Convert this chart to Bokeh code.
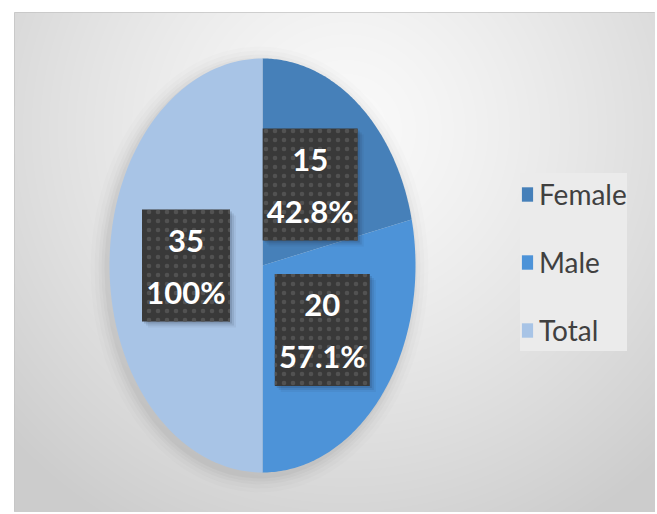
import numpy as np
from bokeh.plotting import figure
from bokeh.models import Range1d, ColumnDataSource
from bokeh.core.properties import value
from bokeh.embed import file_html
from bokeh.resources import INLINE

# ---- data ----
categories = ["Female", "Male", "Total"]
counts = [15, 20, 35]
pct_labels = ["42.8%", "57.1%", "100%"]
colors = ["#4680b9", "#4d93d8", "#a8c4e6"]

# ---- layout ----
W, H = 655, 512
ML, MT = 14, 12
FW, FH = W - ML, H - MT

p = figure(width=W, height=H, output_backend="svg", toolbar_location=None,
           x_range=Range1d(0, FW), y_range=Range1d(0, FH),
           x_axis_location=None, y_axis_location=None,
           min_border_left=ML, min_border_top=MT, min_border_right=0, min_border_bottom=0)
p.grid.visible = False
p.outline_line_color = "#c4c4c4"
p.border_fill_color = "white"
p.background_fill_color = "#e0e0e0"

# background gradient (style only)
yy, xx = np.mgrid[0:FH, 0:FW]
px = xx + float(ML)
py = float(MT) + (FH - yy)
d = np.sqrt(((px - 345) / 430.0) ** 2 + ((py - 130) / 430.0) ** 2)
v = np.clip(250 - 42 * d ** 1.3, 204, 250).astype(np.uint8)
img = np.empty((FH, FW), dtype=np.uint32)
view = img.view(dtype=np.uint8).reshape((FH, FW, 4))
view[..., 0] = v
view[..., 1] = v
view[..., 2] = v
view[..., 3] = 255
p.image_rgba(image=[img], x=0, y=0, dw=FW, dh=FH)

# ---- pie (elliptical) ----
cx, cy = 262.0 - ML, float(FH + MT) - 265.0
rx, ry = 153.0, 207.0

# soft shadow halo
for k, a in [(16, 0.012), (12, 0.015), (8, 0.02), (5, 0.025), (2, 0.03)]:
    p.ellipse(x=cx - 3, y=cy - 4, width=2 * (rx + k), height=2 * (ry + k),
              fill_color="black", fill_alpha=a, line_color=None)

total = float(sum(counts))
fr = np.concatenate([[0.0], np.cumsum(counts) / total])
xs, ys, lx, ly = [], [], [], []
for i in range(len(counts)):
    a0 = np.pi / 2 - 2 * np.pi * fr[i]
    a1 = np.pi / 2 - 2 * np.pi * fr[i + 1]
    t = np.linspace(a0, a1, 120)
    xs.append(np.concatenate([[cx], cx + rx * np.cos(t)]))
    ys.append(np.concatenate([[cy], cy + ry * np.sin(t)]))
    am = (a0 + a1) / 2
    lx.append(cx + 0.5 * rx * np.cos(am))
    ly.append(cy + 0.5 * ry * np.sin(am))

src = ColumnDataSource(dict(xs=xs, ys=ys, color=colors, category=categories))
p.patches("xs", "ys", fill_color="color", line_color=None, source=src,
          legend_field="category")

# ---- data labels ----
bw = [7 * len(s) + 60 for s in pct_labels]
lx = np.array(lx)
ly = np.array(ly)
lsrc = ColumnDataSource(dict(x=lx, y=ly, bw=bw, n=[str(c) for c in counts], pct=pct_labels))
for off, a in [(6, 0.06), (4, 0.1), (2, 0.15)]:
    p.rect(x=lx + off, y=ly - off, width=bw, height=112, width_units="screen",
           height_units="screen", fill_color="#1e2a3a", fill_alpha=a, line_color=None)
p.rect(x="x", y="y", width="bw", height=112, width_units="screen", height_units="screen",
       fill_color="#393939", line_color=None, hatch_pattern="dot", hatch_color="#525252",
       hatch_scale=9, hatch_weight=1, source=lsrc)
FONT = "Lato"
p.text(x="x", y="y", text="n", y_offset=-25, text_align="center", text_baseline="middle",
       text_font=value(FONT), text_font_style="bold",
       text_font_size="31px", text_color="white", source=lsrc)
p.text(x="x", y="y", text="pct", y_offset=26, text_align="center", text_baseline="middle",
       text_font=value(FONT), text_font_style="bold",
       text_font_size="31px", text_color="white", source=lsrc)

# ---- legend ----
lg = p.legend[0]
lg.location = (520 - ML, FH + MT - 351)
lg.margin = 0
lg.padding = 13
lg.spacing = 26
lg.label_height = 42
lg.label_width = 84
lg.glyph_height = 18
lg.glyph_width = 14
lg.label_standoff = 5
lg.background_fill_color = "#ebebeb"
lg.background_fill_alpha = 1.0
lg.border_line_color = None
lg.label_text_font = FONT
lg.label_text_font_size = "28px"
lg.label_text_color = "#404040"

open("out.html", "w").write(file_html(p, INLINE))
